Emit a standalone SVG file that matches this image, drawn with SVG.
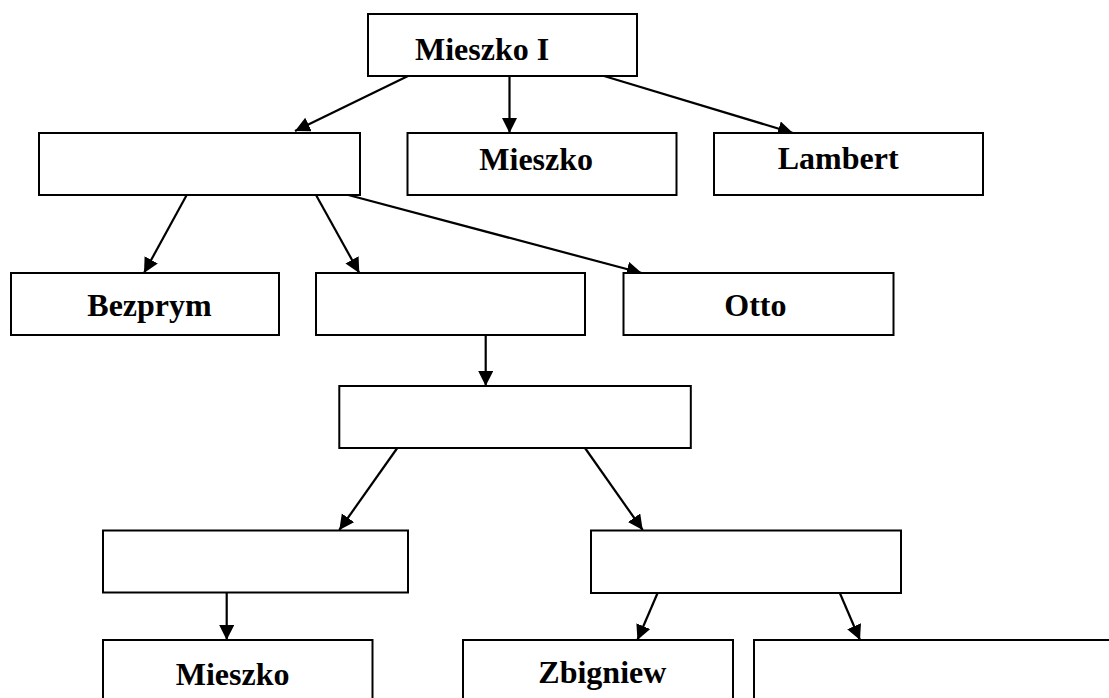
<svg xmlns="http://www.w3.org/2000/svg" width="1109" height="698" viewBox="0 0 1109 698">
<style>
.box{fill:#fff;stroke:#000;stroke-width:2}
.lbl{font-family:"Liberation Serif","Times New Roman",serif;font-weight:bold;font-size:32px;fill:#000}
.edge{stroke:#000;stroke-width:2.2;fill:none;marker-end:url(#arr)}
</style>
<defs>
<marker id="arr" markerUnits="userSpaceOnUse" markerWidth="16" markerHeight="16" refX="15" refY="7.5" orient="auto">
<path d="M0,0 L15,7.5 L0,15 z" fill="#000"/>
</marker>
</defs>
<rect width="1109" height="698" fill="#fff"/>
<g id="connectors">
<line class="edge" x1="408" y1="76" x2="295" y2="131"/>
<line class="edge" x1="509.5" y1="76" x2="509.5" y2="133"/>
<line class="edge" x1="604" y1="76" x2="793" y2="133"/>
<line class="edge" x1="186.7" y1="195" x2="144" y2="273"/>
<line class="edge" x1="316" y1="195" x2="359.3" y2="273"/>
<line class="edge" x1="348.3" y1="195" x2="641.7" y2="273"/>
<line class="edge" x1="485.7" y1="335" x2="485.7" y2="386"/>
<line class="edge" x1="397.3" y1="448" x2="339.3" y2="530"/>
<line class="edge" x1="585" y1="448" x2="642.7" y2="530"/>
<line class="edge" x1="226.7" y1="592" x2="226.7" y2="640"/>
<line class="edge" x1="657.6" y1="593" x2="637.4" y2="640"/>
<line class="edge" x1="839.8" y1="593" x2="860" y2="640"/>
</g>
<g id="n1"><rect class="box" x="368" y="14" width="269" height="62"/><text class="lbl" x="415" y="60">Mieszko I</text></g>
<g id="n2"><rect class="box" x="39" y="133" width="321" height="62"/></g>
<g id="n3"><rect class="box" x="407.5" y="133" width="269" height="62"/><text class="lbl" x="479.3" y="169.5">Mieszko</text></g>
<g id="n4"><rect class="box" x="714" y="133" width="269" height="62"/><text class="lbl" x="777.7" y="169">Lambert</text></g>
<g id="n5"><rect class="box" x="11" y="273" width="268" height="62"/><text class="lbl" x="87.3" y="315.7">Bezprym</text></g>
<g id="n6"><rect class="box" x="316" y="273" width="269" height="62"/></g>
<g id="n7"><rect class="box" x="623.5" y="273" width="270" height="62"/><text class="lbl" x="724.3" y="316">Otto</text></g>
<g id="n8"><rect class="box" x="339.3" y="386" width="351.5" height="62"/></g>
<g id="n9"><rect class="box" x="103" y="530.5" width="305" height="62"/></g>
<g id="n10"><rect class="box" x="591" y="530.5" width="310" height="62.5"/></g>
<g id="n11"><rect class="box" x="103" y="640" width="269.5" height="80"/><text class="lbl" x="175.7" y="685">Mieszko</text></g>
<g id="n12"><rect class="box" x="463" y="640" width="270" height="80"/><text class="lbl" x="538.3" y="683.3">Zbigniew</text></g>
<g id="n13"><rect class="box" x="754" y="640" width="400" height="80"/></g>
</svg>
